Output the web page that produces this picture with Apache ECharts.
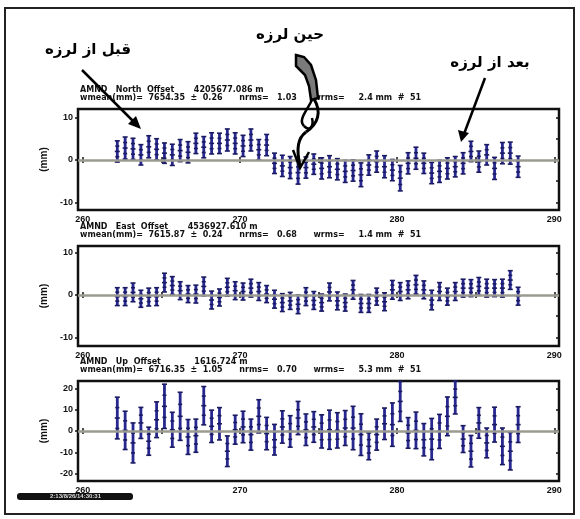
<!DOCTYPE html>
<html><head><meta charset="utf-8">
<script src="https://cdn.jsdelivr.net/npm/echarts@6/dist/echarts.min.js"></script>
<style>html,body{margin:0;padding:0;background:#fff}#c{width:580px;height:519px}</style>
</head><body><div id="c"></div>
<script>
// ---- data (day of year, offset mm, sigma mm) ----
const days = [262.2,262.7,263.2,263.7,264.2,264.7,265.2,265.7,266.2,266.7,267.2,267.7,268.2,268.7,269.2,269.7,270.2,270.7,271.2,271.7,272.2,272.7,273.2,273.7,274.2,274.7,275.2,275.7,276.2,276.7,277.2,277.7,278.2,278.7,279.2,279.7,280.2,280.7,281.2,281.7,282.2,282.7,283.2,283.7,284.2,284.7,285.2,285.7,286.2,286.7,287.2,287.7];
const north = [2.0,2.8,2.6,1.2,3.1,2.5,1.6,1.2,2.2,1.8,3.9,3.0,3.9,3.9,4.7,3.9,3.3,4.7,2.4,3.5,-0.8,-1.4,-1.8,-3.0,-1.8,-1.0,-2.0,-1.6,-2.2,-2.7,-2.5,-3.5,-1.2,-0.4,-1.6,-2.4,-4.3,-0.8,0.4,-0.8,-3.1,-2.7,-2.0,-1.6,-0.8,2.0,-0.4,1.2,-2.0,1.6,1.6,-1.6];
const northErr = [2.5,2.6,2.5,2.4,2.6,2.5,2.4,2.5,2.6,2.5,2.4,2.5,2.5,2.4,2.6,2.5,2.5,2.6,2.4,2.5,2.4,2.5,2.6,2.7,2.5,2.4,2.5,2.6,2.5,2.6,2.5,2.8,2.4,2.5,2.6,2.5,3.0,2.5,2.6,2.4,2.5,2.6,2.5,2.4,2.5,2.4,2.5,2.4,2.6,2.5,2.6,2.5];
const east = [-0.4,-0.4,0.6,-0.9,-0.5,-0.4,2.9,2.2,1.0,0.2,0.2,2.0,-1.2,-0.6,1.8,1.0,0.8,1.6,0.8,0.2,-1.0,-1.8,-1.4,-2.2,-0.4,-1.3,-1.8,0.7,-1.4,-1.8,1.2,-2.0,-2.0,-0.4,-1.6,1.2,0.8,1.2,2.4,1.2,-1.2,0.8,-0.4,0.8,1.6,1.6,2.0,1.6,1.6,1.6,3.5,-0.3];
const eastErr = [2.1,2.1,2.2,2.0,2.1,2.1,2.2,2.1,2.1,2.0,2.1,2.2,2.1,2.0,2.1,2.1,2.0,2.1,2.1,2.0,2.1,2.1,2.0,2.2,2.1,2.1,2.0,2.1,2.1,2.0,2.2,2.1,2.1,2.0,2.1,2.2,2.1,2.1,2.2,2.1,2.3,2.1,2.0,2.1,2.1,2.0,2.1,2.1,2.0,2.1,2.2,2.1];
const up = [6.1,0.3,-5.6,3.8,-4.8,5.3,11.6,0.6,6.9,-2.8,-2.2,11.9,2.2,3.4,-9.5,0.6,1.9,-1.7,6.9,-1.2,-4.1,1.9,-0.2,6.1,0.6,1.9,-0.2,0.6,0.3,1.4,1.4,-1.7,-7.2,-1.7,3.4,3.0,13.9,-0.9,0.3,-4.1,-3.8,-0.2,6.9,15.8,-3.8,-9.5,3.8,-5.6,3.0,-7.2,-9.5,3.0];
const upErr = [9.8,9.0,9.4,7.3,6.6,8.4,10.4,8.2,11.3,8.2,7.8,9.0,7.6,7.6,7.2,6.8,7.4,7.3,7.8,7.6,7.2,7.6,7.4,7.8,7.4,7.2,7.8,9.2,8.3,8.2,10.2,9.8,6.3,7.3,7.4,10.2,9.4,7.2,8.6,7.6,9.7,8.0,9.1,7.8,6.3,7.4,7.2,7.0,8.2,8.6,8.8,8.4];
const xTickLabels = [260,270,280,290];
const xMinorTicks = [260,265,270,275,280,285,290];
const headers = [
  ['AMND   North  Offset       4205677.086 m','wmean(mm)=  7654.35  ±  0.26      nrms=   1.03      wrms=     2.4 mm  #  51'],
  ['AMND   East  Offset       4536927.610 m','wmean(mm)=  7615.87  ±  0.24      nrms=   0.68      wrms=     1.4 mm  #  51'],
  ['AMND   Up  Offset            1616.724 m','wmean(mm)=  6716.35  ±  1.05      nrms=   0.70      wrms=     5.3 mm  #  51']
];
const yLabelVals = [[-10,0,10],[-10,0,10],[-20,-10,0,10,20]];
const yMinorTicks = [[-10,-5,0,5,10],[-10,-5,0,5,10],[-20,-10,0,10,20]];
const yRanges = [[-11.8,12],[-12,11.5],[-23.5,23.5]];
const annotations = ['قبل از لرزه','حین لرزه','بعد از لرزه'];

// ---- layout ----
const panels = [{top:109,h:101},{top:246,h:100},{top:381,h:100}];
const X0 = 78, X1 = 559;
const BAR = '#27278f';
const lab = {fontFamily:'Liberation Sans, Arial', fontWeight:'bold', fontSize:9, color:'#111'};

const chart = echarts.init(document.getElementById('c'), null, {renderer:'canvas'});
const grids=[], xAxes=[], yAxes=[], series=[], titles=[];
const sets = [[north,northErr],[east,eastErr],[up,upErr]];
panels.forEach((p,i)=>{
  grids.push({left:X0, width:X1-X0, top:p.top, height:p.h, show:true, borderColor:'#111', borderWidth:2.5, backgroundColor:'#fff'});
  xAxes.push({gridIndex:i, type:'value', min:259.7, max:290.3, position:'bottom',
    axisLine:{show:false}, splitLine:{show:false},
    axisTick:{show:true, inside:true, length:3, lineStyle:{color:'#111',width:1.5}, customValues:xMinorTicks},
    axisLabel:Object.assign({customValues:xTickLabels, margin:5}, lab)});
  yAxes.push({gridIndex:i, type:'value', min:yRanges[i][0], max:yRanges[i][1], position:'left',
    name:'(mm)', nameLocation:'middle', nameRotate:90, nameGap:20,
    nameTextStyle:{fontFamily:'Liberation Sans, Arial', fontWeight:'bold', fontSize:10, color:'#111'},
    axisLine:{show:false}, splitLine:{show:false},
    axisTick:{show:true, inside:false, length:3, lineStyle:{color:'#111',width:1.5}, customValues:yLabelVals[i]},
    axisLabel:Object.assign({customValues:yLabelVals[i], margin:5}, lab)});
  titles.push({text:headers[i][0]+'\n'+headers[i][1], left:X0+2, top:p.top-23, padding:0,
    textStyle:{fontFamily:'DejaVu Sans', fontWeight:'bold', fontSize:8, lineHeight:8, color:'#111'}});
});
panels.forEach((p,i)=>{
  xAxes.push({gridIndex:i, type:'value', min:259.7, max:290.3, position:'top',
    axisLine:{show:false}, splitLine:{show:false}, axisLabel:{show:false},
    axisTick:{show:true, inside:true, length:3, lineStyle:{color:'#111',width:1.5}, customValues:xMinorTicks}});
  yAxes.push({gridIndex:i, type:'value', min:yRanges[i][0], max:yRanges[i][1], position:'right',
    axisLine:{show:false}, splitLine:{show:false}, axisLabel:{show:false},
    axisTick:{show:true, inside:true, length:3, lineStyle:{color:'#111',width:1.5}, customValues:yMinorTicks[i]}});
});
sets.forEach((s,i)=>{
  const vals=s[0], errs=s[1];
  series.push({type:'line', xAxisIndex:i, yAxisIndex:i, data:[], silent:true,
    markLine:{silent:true, symbol:'none', label:{show:false},
      lineStyle:{color:'#9b9b90', width:2.5, type:'solid'}, data:[{yAxis:0}]}});
  series.push({type:'custom', xAxisIndex:i, yAxisIndex:i, silent:true,
    data: days.map((d,k)=>[d, vals[k], errs[k]]),
    encode:{x:0, y:1},
    renderItem:function(params, api){
      const x=api.value(0), v=api.value(1), e=api.value(2);
      const c=api.coord([x,v]), t=api.coord([x,v+e]), b=api.coord([x,v-e]);
      const st={stroke:BAR, lineWidth:2.8};
      const st2={stroke:'#1a1a60', lineWidth:1.6};
      return {type:'group', children:[
        {type:'line', shape:{x1:c[0],y1:t[1],x2:c[0],y2:b[1]}, style:st},
        {type:'line', shape:{x1:c[0]-2.5,y1:t[1],x2:c[0]+2.5,y2:t[1]}, style:st2},
        {type:'line', shape:{x1:c[0]-2.5,y1:b[1],x2:c[0]+2.5,y2:b[1]}, style:st2},
        {type:'line', shape:{x1:c[0]-2.5,y1:c[1],x2:c[0]+2.5,y2:c[1]}, style:st2},
        {type:'line', shape:{x1:c[0]-2,y1:(c[1]+t[1])/2,x2:c[0]+2,y2:(c[1]+t[1])/2}, style:st2},
        {type:'line', shape:{x1:c[0]-2,y1:(c[1]+b[1])/2,x2:c[0]+2,y2:(c[1]+b[1])/2}, style:st2}
      ]};
    }});
});

const afont = 'bold 15px "DejaVu Sans"';
const graphic = [
  {type:'rect', shape:{x:5,y:8,width:569,height:506}, style:{fill:'none', stroke:'#222', lineWidth:2}, z:100},
  {type:'text', x:88, y:50, style:{text:annotations[0], font:afont, fill:'#000', align:'center', verticalAlign:'middle'}, z:100},
  {type:'text', x:290, y:35, style:{text:annotations[1], font:afont, fill:'#000', align:'center', verticalAlign:'middle'}, z:100},
  {type:'text', x:490, y:63, style:{text:annotations[2], font:afont, fill:'#000', align:'center', verticalAlign:'middle'}, z:100},
  // left arrow
  {type:'line', shape:{x1:82,y1:70,x2:136,y2:124}, style:{stroke:'#000', lineWidth:2.5}, z:100},
  {type:'polygon', shape:{points:[[141,129],[128,124],[136,116]]}, style:{fill:'#000'}, z:100},
  // right arrow
  {type:'line', shape:{x1:485,y1:78,x2:464,y2:134}, style:{stroke:'#000', lineWidth:2.5}, z:100},
  {type:'polygon', shape:{points:[[461,142],[458,130],[469,133]]}, style:{fill:'#000'}, z:100},
  // middle curved arrow with grey wedge
  {type:'polygon', shape:{points:[[296,55],[304,57],[311,65],[316,80],[318,98],[311,100],[309,86],[305,75],[296,66]]}, style:{fill:'#7a7a7a', stroke:'#000', lineWidth:2.5}, z:100},
  {type:'bezierCurve', shape:{x1:314,y1:99,cpx1:322,cpy1:112,cpx2:318,cpy2:124,x2:306,y2:132}, style:{fill:'none', stroke:'#000', lineWidth:3}, z:100},
  {type:'bezierCurve', shape:{x1:306,y1:132,cpx1:298,cpy1:138,cpx2:296,cpy2:148,x2:300,y2:166}, style:{fill:'none', stroke:'#000', lineWidth:3}, z:100},
  {type:'bezierCurve', shape:{x1:312,y1:100,cpx1:306,cpy1:112,cpx2:298,cpy2:120,x2:304,y2:126}, style:{fill:'none', stroke:'#000', lineWidth:2.5}, z:100},
  {type:'bezierCurve', shape:{x1:304,y1:126,cpx1:310,cpy1:132,cpx2:314,cpy2:126,x2:312,y2:118}, style:{fill:'none', stroke:'#000', lineWidth:2.5}, z:100},
  {type:'polyline', shape:{points:[[293,150],[300,168],[309,152]]}, style:{fill:'none', stroke:'#000', lineWidth:2.5}, z:100},
  // bottom-left stamp bar
  {type:'rect', shape:{x:17,y:493,width:116,height:7,r:3}, style:{fill:'#111'}, z:100},
  {type:'text', x:50, y:496.5, style:{text:'2:13/8/26/14:30:31', font:'bold 6px "Liberation Sans"', fill:'#ddd', verticalAlign:'middle'}, z:101}
];

chart.setOption({
  animation:false,
  backgroundColor:'#fff',
  title:titles, grid:grids, xAxis:xAxes, yAxis:yAxes, series:series, graphic:graphic
});
</script></body></html>
